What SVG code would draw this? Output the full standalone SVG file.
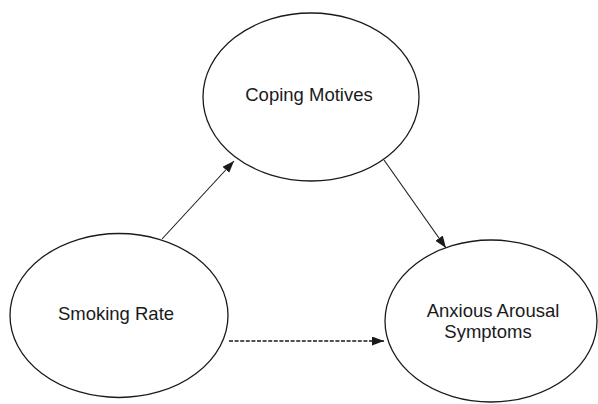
<svg xmlns="http://www.w3.org/2000/svg" width="598" height="404" viewBox="0 0 598 404">
<style>
.node ellipse{fill:#fff;stroke:#1a1a1a;stroke-width:1.3}
.node text{font-family:"Liberation Sans",Arial,sans-serif;font-size:18.5px;fill:#1a1a1a;text-anchor:middle}
.edge{stroke:#1a1a1a;stroke-width:1.1;fill:none}
.dash{stroke-width:1.4;stroke-dasharray:4 1.6}
</style>
<defs>
<marker id="arr" markerUnits="userSpaceOnUse" markerWidth="13" markerHeight="10" refX="12" refY="4.5" orient="auto">
<path d="M0,0 L12,4.5 L0,9 z" fill="#1a1a1a"/>
</marker>
</defs>
<rect width="598" height="404" fill="#fff"/>
<g id="connectors">
<line class="edge" x1="162" y1="239" x2="234" y2="161" marker-end="url(#arr)"/>
<line class="edge" x1="384" y1="160" x2="446" y2="248" marker-end="url(#arr)"/>
<line class="edge dash" x1="229" y1="341" x2="384" y2="341" marker-end="url(#arr)"/>
</g>
<g id="coping" class="node">
<ellipse cx="311" cy="97" rx="108" ry="84"/>
<text x="309" y="101">Coping Motives</text>
</g>
<g id="smoking" class="node">
<ellipse cx="119" cy="315.5" rx="109" ry="82"/>
<text x="116" y="320">Smoking Rate</text>
</g>
<g id="anxious" class="node">
<ellipse cx="491" cy="321" rx="106" ry="81"/>
<text x="493" y="317">Anxious Arousal</text>
<text x="488" y="338">Symptoms</text>
</g>
</svg>
